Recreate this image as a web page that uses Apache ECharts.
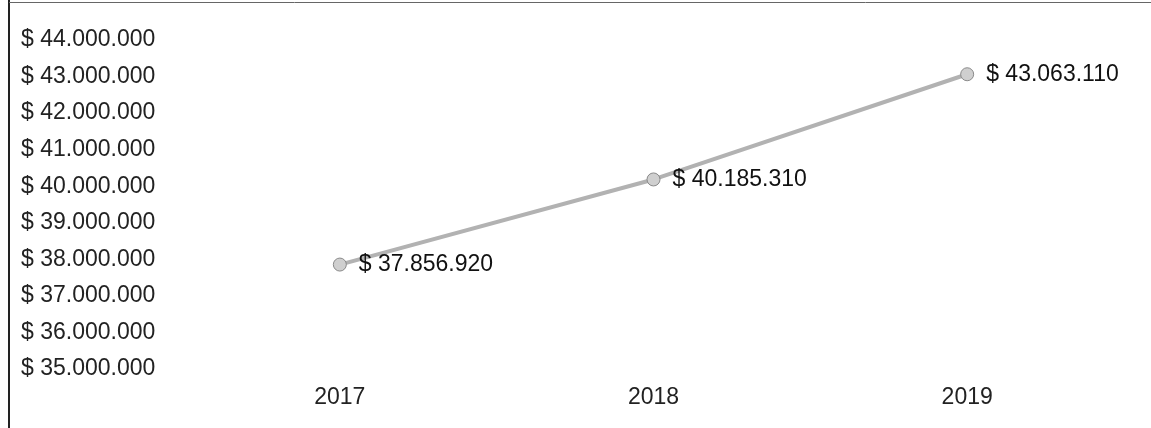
<!DOCTYPE html>
<html>
<head>
<meta charset="utf-8">
<script src="https://cdn.jsdelivr.net/npm/echarts@6/dist/echarts.min.js"></script>
<style>
  html, body { margin: 0; padding: 0; background: #fff; }
  #chart { width: 1151px; height: 428px; }
</style>
</head>
<body>
<div id="chart"></div>
<script>
// categories and values
const years = ['2017', '2018', '2019']
const totals = [37856920, 40185310, 43063110]
// y axis range / step
const yMin = 35000000
const yMax = 44000000
const yStep = 1000000

// "$ 44.000.000" style
function money(v) {
    return '$ ' + String(Math.round(v)).replace(/\B(?=(\d{3})+(?!\d))/g, '.')
}

const chart = echarts.init(document.getElementById('chart'))
const option = {
    animation: false,
    backgroundColor: '#fff',
    textStyle: { fontFamily: 'Liberation Sans, Arial, sans-serif' },
    graphic: [
        // scanned page frame (left + top edge)
        { type: 'line', shape: { x1: 9, y1: 0, x2: 9, y2: 428 }, style: { stroke: '#222', lineWidth: 2 } },
        { type: 'line', shape: { x1: 9, y1: 2.5, x2: 1151, y2: 2.5 }, style: { stroke: '#666', lineWidth: 1 } }
    ],
    grid: {
        left: 183,
        right: 27,
        top: 40,
        bottom: 59
    },
    xAxis: {
        type: 'category',
        data: years,
        boundaryGap: true,
        axisLine: { show: false },
        axisTick: { show: false },
        axisLabel: { color: '#222', fontSize: 23, margin: 17 }
    },
    yAxis: {
        type: 'value',
        min: yMin,
        max: yMax,
        interval: yStep,
        splitLine: { show: false },
        axisLine: { show: false },
        axisTick: { show: false },
        axisLabel: {
            color: '#222',
            fontSize: 23,
            align: 'left',
            margin: 162,
            formatter: money
        }
    },
    series: [{
        type: 'line',
        data: totals,
        symbol: 'circle',
        symbolSize: 13,
        lineStyle: { color: '#b2b2b2', width: 4 },
        itemStyle: { color: '#cfcfcf', borderColor: '#8a8a8a', borderWidth: 1 },
        label: {
            show: true,
            position: 'right',
            distance: 12,
            color: '#111',
            fontSize: 23,
            formatter: p => money(p.value)
        }
    }]
}
chart.setOption(option)
</script>
</body>
</html>
